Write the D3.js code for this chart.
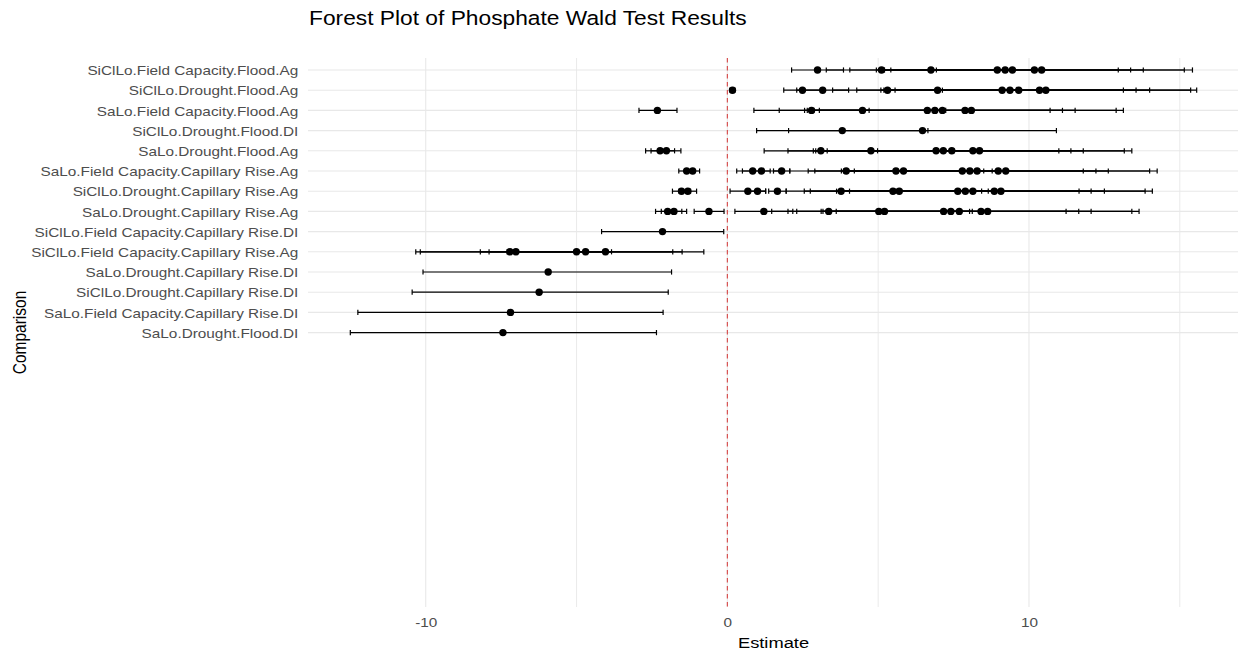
<!DOCTYPE html>
<html>
<head>
<meta charset="utf-8">
<script src="https://cdn.jsdelivr.net/npm/d3@7"></script>
<style>
  html, body { margin: 0; padding: 0; background: #ffffff; }
  svg { display: block; }
  text { font-family: "Liberation Sans", Arial, sans-serif; }
</style>
</head>
<body>
<svg id="chart" width="1238" height="653"></svg>
<script>
// Comparisons, top to bottom
const comparisons = [
  "SiClLo.Field Capacity.Flood.Ag",
  "SiClLo.Drought.Flood.Ag",
  "SaLo.Field Capacity.Flood.Ag",
  "SiClLo.Drought.Flood.DI",
  "SaLo.Drought.Flood.Ag",
  "SaLo.Field Capacity.Capillary Rise.Ag",
  "SiClLo.Drought.Capillary Rise.Ag",
  "SaLo.Drought.Capillary Rise.Ag",
  "SiClLo.Field Capacity.Capillary Rise.DI",
  "SiClLo.Field Capacity.Capillary Rise.Ag",
  "SaLo.Drought.Capillary Rise.DI",
  "SiClLo.Drought.Capillary Rise.DI",
  "SaLo.Field Capacity.Capillary Rise.DI",
  "SaLo.Drought.Flood.DI"
];

// Wald test estimates per comparison
const estimates = [
  [2.99, 5.11, 6.75, 8.95, 9.21, 9.45, 10.18, 10.42],
  [0.17, 2.49, 3.16, 5.31, 6.97, 9.11, 9.37, 9.66, 10.35, 10.56],
  [-2.32, 2.79, 4.48, 6.63, 6.88, 7.13, 7.88, 8.09],
  [3.81, 6.47],
  [-2.23, -2.02, 3.10, 4.76, 6.92, 7.16, 7.44, 8.14, 8.36],
  [-1.35, -1.15, 0.84, 1.13, 1.80, 3.94, 5.59, 5.84, 7.79, 8.04, 8.28, 8.98, 9.23],
  [-1.52, -1.31, 0.68, 1.00, 1.66, 3.77, 5.49, 5.70, 7.64, 7.89, 8.14, 8.85, 9.07],
  [-1.98, -1.77, -0.61, 1.21, 3.36, 5.02, 5.21, 7.17, 7.41, 7.69, 8.41, 8.63],
  [-2.15],
  [-7.21, -7.01, -5.00, -4.70, -4.04],
  [-5.94],
  [-6.24],
  [-7.19],
  [-7.44]
];

// Lower confidence limits
const lowerCI = [
  [2.13, 3.28, 4.06, 4.94, 5.05, 5.11, 5.21, 5.42],
  [0.09, 1.87, 2.30, 3.49, 4.29, 5.09, 5.19, 5.32, 5.34, 5.56],
  [-2.93, 0.88, 1.72, 2.56, 2.65, 2.73, 2.87, 3.05],
  [0.97, 2.03],
  [-2.71, -2.53, 1.22, 2.01, 2.85, 2.93, 3.08, 3.12, 3.31],
  [-1.61, -1.41, 0.31, 0.50, 1.53, 2.07, 2.68, 2.90, 3.78, 3.86, 3.93, 3.96, 4.21],
  [-1.82, -1.60, 0.09, 0.73, 1.37, 1.95, 2.55, 2.75, 3.62, 3.72, 3.78, 3.85, 4.05],
  [-2.38, -2.19, -1.10, 0.25, 1.47, 2.01, 2.30, 3.11, 3.17, 3.32, 3.41, 3.61],
  [-4.17],
  [-10.33, -10.18, -8.19, -7.90, -7.30],
  [-10.09],
  [-10.45],
  [-12.25],
  [-12.50]
];

// Upper confidence limits
const upperCI = [
  [3.85, 6.93, 9.44, 12.96, 13.37, 13.79, 15.15, 15.42],
  [0.25, 3.11, 4.02, 7.13, 9.65, 13.13, 13.55, 14.00, 15.36, 15.56],
  [-1.67, 4.70, 7.24, 10.70, 11.11, 11.53, 12.89, 13.13],
  [6.65, 10.91],
  [-1.75, -1.54, 4.98, 7.51, 10.99, 11.39, 11.80, 13.16, 13.41],
  [-1.09, -0.92, 1.42, 1.76, 2.07, 5.81, 8.50, 8.78, 11.80, 12.22, 12.63, 14.00, 14.25],
  [-1.22, -1.02, 1.27, 1.27, 1.95, 5.59, 8.43, 8.65, 11.66, 12.06, 12.50, 13.85, 14.09],
  [-1.51, -1.35, -0.11, 2.17, 5.25, 8.03, 8.12, 11.23, 11.65, 12.06, 13.41, 13.65],
  [-0.12],
  [-4.09, -3.84, -1.81, -1.50, -0.78],
  [-1.85],
  [-1.96],
  [-2.13],
  [-2.35]
];

const xTickValues = [-10, 0, 10];
const xMinorValues = [-5, 5, 15];

const titleText = "Forest Plot of Phosphate Wald Test Results";
const xTitle = "Estimate";
const yTitle = "Comparison";

// Flatten into one record per estimate
const rows = [];
comparisons.forEach((c, i) => {
  estimates[i].forEach((e, j) => {
    rows.push({ comparison: c, estimate: e, lo: lowerCI[i][j], hi: upperCI[i][j] });
  });
});

// Layout
const svg = d3.select("#chart");
const panel = { left: 308, right: 1239, top: 58, bottom: 607 };
const stretch = 1.18; // horizontal glyph stretch of the rendered text
const axisFont = 13;

const lo = d3.min(rows, d => d.lo);
const hi = d3.max(rows, d => d.hi);
const pad = (hi - lo) * 0.05;
const x = d3.scaleLinear().domain([lo - pad, hi + pad]).range([panel.left, panel.right]);
const y = d3.scalePoint().domain(comparisons).range([70, 332.6]);

// Grid
const grid = svg.append("g");
grid.selectAll("line.minor").data(xMinorValues).join("line")
  .attr("x1", d => x(d)).attr("x2", d => x(d))
  .attr("y1", panel.top).attr("y2", panel.bottom)
  .attr("stroke", "#e8e8e8").attr("stroke-width", 0.9);
grid.selectAll("line.major").data(xTickValues).join("line")
  .attr("x1", d => x(d)).attr("x2", d => x(d))
  .attr("y1", panel.top).attr("y2", panel.bottom)
  .attr("stroke", "#e8e8e8").attr("stroke-width", 1.1);
grid.selectAll("line.row").data(comparisons).join("line")
  .attr("x1", panel.left).attr("x2", panel.right)
  .attr("y1", d => y(d)).attr("y2", d => y(d))
  .attr("stroke", "#e8e8e8").attr("stroke-width", 1.1);

// Zero reference line
svg.append("line")
  .attr("x1", x(0)).attr("x2", x(0))
  .attr("y1", panel.top).attr("y2", panel.bottom)
  .attr("stroke", "#d64545").attr("stroke-width", 1.1)
  .attr("stroke-dasharray", "4.5,3.5");

// Horizontal error bars with caps
const capH = 2.6;
const bars = svg.append("g").attr("stroke", "#000").attr("stroke-width", 1.2).attr("fill", "none");
bars.selectAll("line.span").data(rows).join("line")
  .attr("x1", d => x(d.lo)).attr("x2", d => x(d.hi))
  .attr("y1", d => y(d.comparison)).attr("y2", d => y(d.comparison));
bars.selectAll("line.capl").data(rows).join("line")
  .attr("x1", d => x(d.lo)).attr("x2", d => x(d.lo))
  .attr("y1", d => y(d.comparison) - capH).attr("y2", d => y(d.comparison) + capH);
bars.selectAll("line.caph").data(rows).join("line")
  .attr("x1", d => x(d.hi)).attr("x2", d => x(d.hi))
  .attr("y1", d => y(d.comparison) - capH).attr("y2", d => y(d.comparison) + capH);

// Point estimates
svg.append("g").selectAll("circle").data(rows).join("circle")
  .attr("cx", d => x(d.estimate)).attr("cy", d => y(d.comparison))
  .attr("r", 3.7).attr("fill", "#000");

// X axis labels
const xAxis = svg.append("g").attr("transform", `translate(0,${panel.bottom})`)
  .call(d3.axisBottom(x).tickValues(xTickValues).tickSize(0).tickPadding(0).tickFormat(d => String(d)));
xAxis.select(".domain").remove();
xAxis.selectAll("text")
  .attr("y", 20).attr("dy", 0)
  .attr("transform", `scale(${stretch},1)`)
  .attr("font-size", axisFont).attr("fill", "#4d4d4d")
  .style("font-family", "'Liberation Sans', Arial, sans-serif");

// Y axis labels
const yAxis = svg.append("g").attr("transform", `translate(${panel.left},0)`)
  .call(d3.axisLeft(y).tickSize(0).tickPadding(0));
yAxis.select(".domain").remove();
yAxis.selectAll("text")
  .attr("x", -8.2).attr("dy", "0.36em")
  .attr("transform", `scale(${stretch},1)`)
  .attr("font-size", axisFont).attr("fill", "#4d4d4d")
  .style("font-family", "'Liberation Sans', Arial, sans-serif");

// Titles
svg.append("text")
  .attr("transform", `translate(${panel.left + 1},25) scale(${stretch},1)`)
  .attr("font-size", 19.3).attr("fill", "#000")
  .text(titleText);

svg.append("text")
  .attr("transform", `translate(${(panel.left + panel.right) / 2},648) scale(${stretch},1)`)
  .attr("text-anchor", "middle")
  .attr("font-size", 15.5).attr("fill", "#000")
  .text(xTitle);

svg.append("text")
  .attr("transform", `translate(25.5,${(panel.top + panel.bottom) / 2}) scale(${stretch},1) rotate(-90)`)
  .attr("text-anchor", "middle")
  .attr("font-size", 15.5).attr("fill", "#000")
  .text(yTitle);
</script>
</body>
</html>
